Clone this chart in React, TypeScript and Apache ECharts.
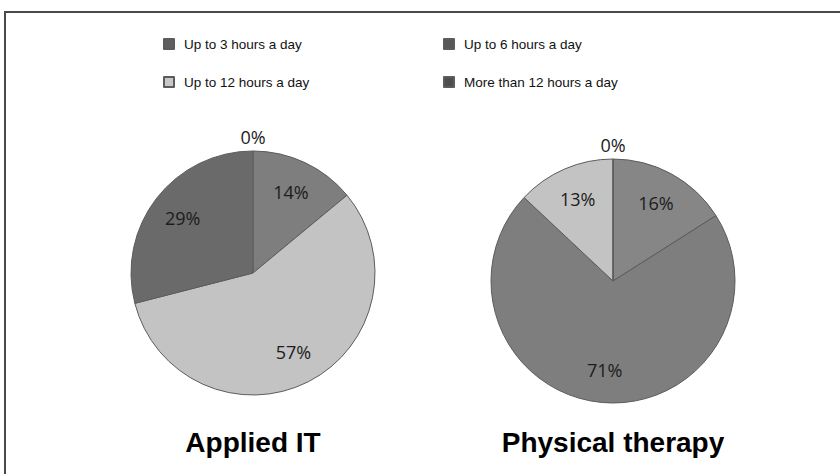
import React, { useEffect, useRef } from "react";
import * as echarts from "echarts";

const categories = [
  "Up to 3 hours a day",
  "Up to 6 hours a day",
  "Up to 12 hours a day",
  "More than 12 hours a day",
];
const appliedIT = [0, 14, 57, 29];
const physicalTherapy = [16, 71, 13, 0];
const pieTitles = ["Applied IT", "Physical therapy"];

const sliceColors = ["#868686", "#7e7e7e", "#c3c3c3", "#6a6a6a"];
const legendColors = ["#5f5f5f", "#585858", "#c8c8c8", "#4e4e4e"];

const R = 122;
const centers = [
  [253, 273],
  [613, 281],
];

const labelStyle = {
  position: "inside",
  formatter: "{c}%",
  fontFamily: "Open Sans",
  fontSize: 18,
  color: "#1c1c1c",
};

function pieSeries(values: number[], center: number[]) {
  const base = {
    type: "pie",
    center,
    startAngle: 90,
    clockwise: true,
    silent: true,
    animation: false,
    labelLine: { show: false },
  };
  return [
    {
      ...base,
      radius: [0, R],
      label: { show: false },
      itemStyle: { borderColor: "#5c5c5c", borderWidth: 1 },
      data: values.map((v, i) => ({
        name: categories[i],
        value: v,
        itemStyle: { color: sliceColors[i] },
      })),
    },
    {
      ...base,
      radius: [50, R],
      z: 3,
      itemStyle: { color: "transparent", borderWidth: 0 },
      label: labelStyle,
      data: values.map((v, i) => ({
        name: categories[i],
        value: v,
        label: { show: v !== 0 },
      })),
    },
    {
      ...base,
      radius: [R, R + 22],
      z: 3,
      itemStyle: { color: "transparent", borderWidth: 0 },
      label: labelStyle,
      data: values.map((v, i) => ({
        name: categories[i],
        value: v,
        label: { show: v === 0 },
      })),
    },
  ];
}

export default function App() {
  const ref = useRef<HTMLDivElement>(null);
  useEffect(() => {
    document.body.style.margin = "0";
    const chart = echarts.init(ref.current!, null, { renderer: "svg" });
    const legendBase = {
      orient: "vertical",
      top: 36,
      padding: 0,
      itemWidth: 10,
      itemHeight: 10,
      itemGap: 22,
      icon: "rect",
      selectedMode: false,
      textStyle: {
        fontFamily: "Liberation Sans",
        fontSize: 13.5,
        color: "#111",
        lineHeight: 16,
        padding: [0, 0, 0, 5],
      },
    };
    const legendItem = (i: number) => ({
      name: categories[i],
      itemStyle: { color: legendColors[i] },
    });
    chart.setOption({
      animation: false,
      backgroundColor: "#ffffff",
      title: pieTitles.map((t, i) => ({
        text: t,
        left: centers[i][0] - 5,
        top: 423,
        textAlign: "center",
        textStyle: {
          fontFamily: "Liberation Sans",
          fontWeight: "bold",
          fontSize: 28,
          color: "#000",
        },
      })),
      legend: [
        { ...legendBase, left: 163, data: [legendItem(0), legendItem(2)] },
        { ...legendBase, left: 443, data: [legendItem(1), legendItem(3)] },
      ],
      graphic: [
        {
          type: "rect",
          shape: { x: 5, y: 12, width: 860, height: 490 },
          style: { fill: "none", stroke: "#4a4a4a", lineWidth: 2 },
          silent: true,
        },
      ],
      series: [
        ...pieSeries(appliedIT, centers[0]),
        ...pieSeries(physicalTherapy, centers[1]),
      ],
    });
    return () => chart.dispose();
  }, []);
  return <div ref={ref} style={{ width: 840, height: 474 }} />;
}
